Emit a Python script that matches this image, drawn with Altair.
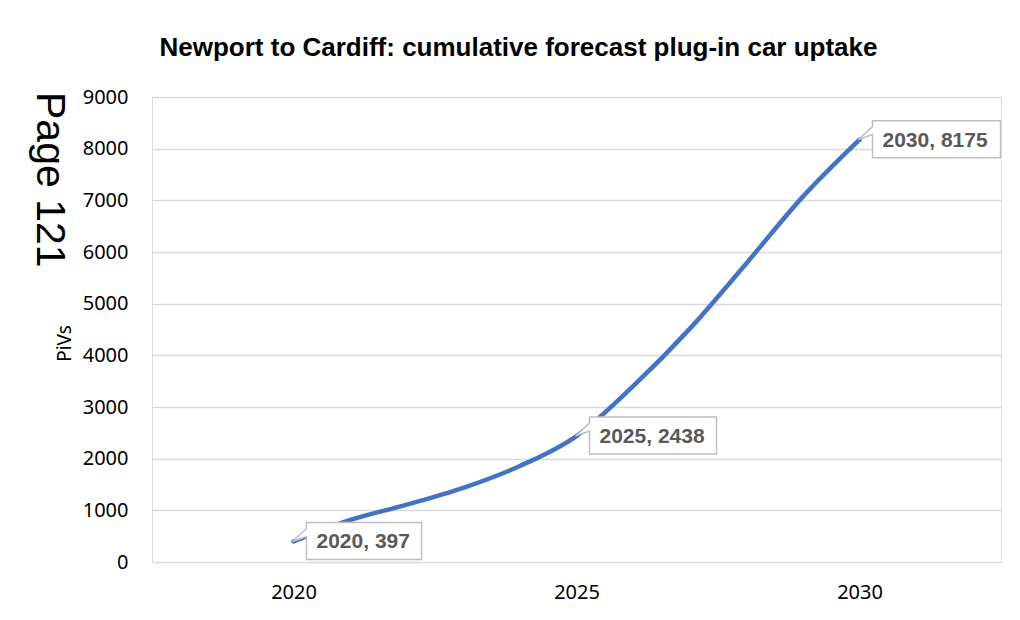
import altair as alt
import pandas as pd

years = [2020, 2021, 2022, 2023, 2024, 2025, 2026, 2027, 2028, 2029, 2030]
plivs = [397, 813, 1110, 1436, 1858, 2438, 3402, 4512, 5779, 7072, 8175]

label_years = [2020, 2025, 2030]
label_values = [397, 2438, 8175]
label_box_widths = [1.15, 1.27, 1.28]  # callout box widths (shape units)

y_ticks = [0, 1000, 2000, 3000, 4000, 5000, 6000, 7000, 8000, 9000]
x_ticks = [2020, 2025, 2030]

title_text = "Newport to Cardiff: cumulative forecast plug-in car uptake"
y_title = "PiVs"
page_text = "Page 121"

df = pd.DataFrame({"year": years, "plivs": plivs})
labels = [f"{y}, {v}" for y, v in zip(label_years, label_values)]
ldf = pd.DataFrame({"year": label_years, "plivs": label_values, "label": labels})


def box_path(w):
    r = 0.13 + w
    return (f"M -0.01,0 L 0.13,-0.13 L 0.13,-0.19 L {r:.2f},-0.19 "
            f"L {r:.2f},0.18 L 0.13,0.18 L 0.13,-0.05 Z")


paths = [box_path(w) for w in label_box_widths]

xs = alt.Scale(domain=[2017.5, 2032.5], nice=False, zero=False)
ys = alt.Scale(domain=[0, 9000], nice=False)

x_enc = alt.X("year:Q", scale=xs,
              axis=alt.Axis(values=x_ticks, format="d", title=None, grid=False,
                            domain=False, ticks=False, labelPadding=20,
                            labelFont="Noto Sans", labelFontSize=20,
                            labelColor="#000000"))
y_enc = alt.Y("plivs:Q", scale=ys,
              axis=alt.Axis(values=y_ticks, format="d", title=y_title,
                            grid=True, gridColor="#D9D9D9", gridWidth=1.5,
                            domain=False, ticks=False, labelPadding=24,
                            labelFont="Noto Sans", labelFontSize=20,
                            labelColor="#000000",
                            titleFont="Noto Sans", titleFontSize=19,
                            titleFontWeight="normal", titleColor="#000000",
                            titleAngle=-90, titleX=-82, titleY=246,
                            titleAlign="center", titleBaseline="alphabetic"))

line = alt.Chart(df).mark_line(
    interpolate="monotone", color="#4472C4", strokeWidth=4.5,
    strokeCap="round").encode(x=x_enc, y=y_enc)

boxes = alt.Chart(ldf).mark_point(
    filled=True, fill="white", stroke="#BFBFBF", strokeWidth=1.5,
    size=40000, opacity=1, fillOpacity=1).encode(
    x=alt.X("year:Q", scale=xs),
    y=alt.Y("plivs:Q", scale=ys),
    shape=alt.Shape("label:N", scale=alt.Scale(domain=labels, range=paths),
                    legend=None))

texts = alt.Chart(ldf).mark_text(
    align="left", baseline="middle", dx=23, dy=1,
    font="Liberation Sans", fontWeight="bold", fontSize=21,
    color="#595959").encode(
    x=alt.X("year:Q", scale=xs),
    y=alt.Y("plivs:Q", scale=ys),
    text="label:N")

page = alt.Chart(pd.DataFrame({"t": [page_text]})).mark_text(
    angle=90, align="left", baseline="alphabetic",
    font="Liberation Sans", fontSize=41, color="#000000").encode(
    x=alt.value(-115), y=alt.value(-5), text="t:N")

chart = alt.layer(line, boxes, texts, page).properties(
    width=849, height=465,
    title=alt.TitleParams(title_text, font="Liberation Sans", fontSize=26,
                          fontWeight="bold", color="#000000",
                          anchor="middle", dx=-58, dy=37, offset=42,
                          baseline="alphabetic"),
    autosize=alt.AutoSizeParams(type="none"),
    padding={"left": 144, "top": 89, "right": 10, "bottom": 45},
).configure_view(stroke=None).configure(background="white")

chart.save("out.html", embed_options={"renderer": "svg", "actions": False})
